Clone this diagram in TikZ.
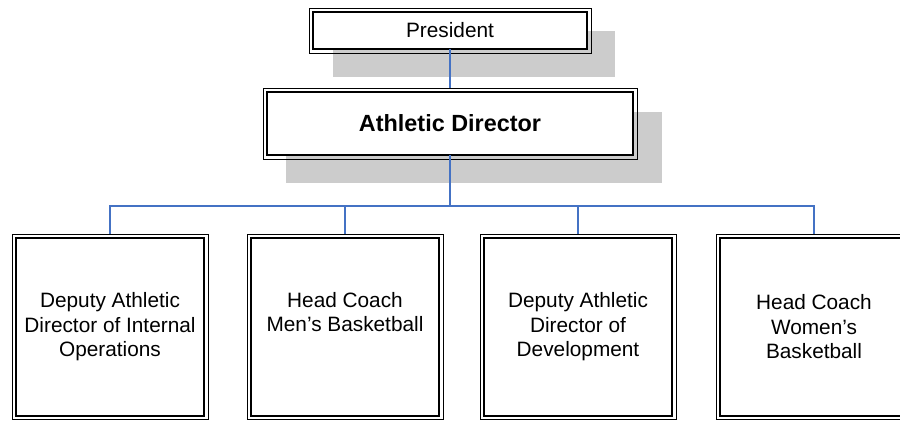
\documentclass[tikz,border=0pt]{standalone}
\usepackage{fontspec}
\setmainfont{Liberation Sans}
\usetikzlibrary{backgrounds}
\definecolor{linkblue}{RGB}{68,114,196}
\definecolor{shadowgray}{RGB}{204,204,204}
\begin{document}
\begin{tikzpicture}[x=1pt,y=-1pt,
	org box/.style={draw,fill=white,line width=1.8pt,inner sep=0pt,outer sep=0pt,align=center},
	small box/.style={org box,minimum width=188pt,minimum height=177.5pt,font=\fontsize{20.8}{24.5}\selectfont},
	frame/.style={line width=0.9pt},
	link/.style={draw=linkblue,line width=1.8pt}]
  \useasboundingbox (0,0) rectangle (900,421);

\node[org box,minimum width=274pt,minimum height=37pt,font=\fontsize{20.8}{24.5}\selectfont] (pres) at (450,30.5) {President};
\node[org box,minimum width=366pt,minimum height=63pt,font=\fontsize{23.4}{28}\selectfont\bfseries] (ad) at (450,123.5) {Athletic Director};

\node[small box] (ops) at (110,327) {Deputy Athletic\\Director of Internal\\Operations};
\node[small box] (men) at (345,327) {Head Coach\\Men's Basketball\\[6pt]\mbox{}};
\node[small box] (dev) at (578,327) {Deputy Athletic\\Director of\\Development};
\node[small box] (women) at (814,327) {Head Coach\\Women's\\Basketball};

% thin outer frames
\foreach \n in {pres,ad,ops,men,dev,women}
  \draw[frame] ([shift={(-4,-4)}]\n.north west) rectangle ([shift={(4,4)}]\n.south east);

% drop shadows
\begin{scope}[on background layer]
  \fill[shadowgray] ([shift={(20,19)}]pres.north west) rectangle ([shift={(28,28)}]pres.south east);
  \fill[shadowgray] ([shift={(19,20)}]ad.north west) rectangle ([shift={(29,28)}]ad.south east);
\end{scope}

\coordinate (hub) at (450,206);
\draw[link] (pres.south) -- ([yshift=4pt]ad.north);
\draw[link] (ad.south) -- (hub);
\foreach \n in {ops,men,dev,women}
  \draw[link] (hub) -| ([yshift=4pt]\n.north);
\end{tikzpicture}
\end{document}
